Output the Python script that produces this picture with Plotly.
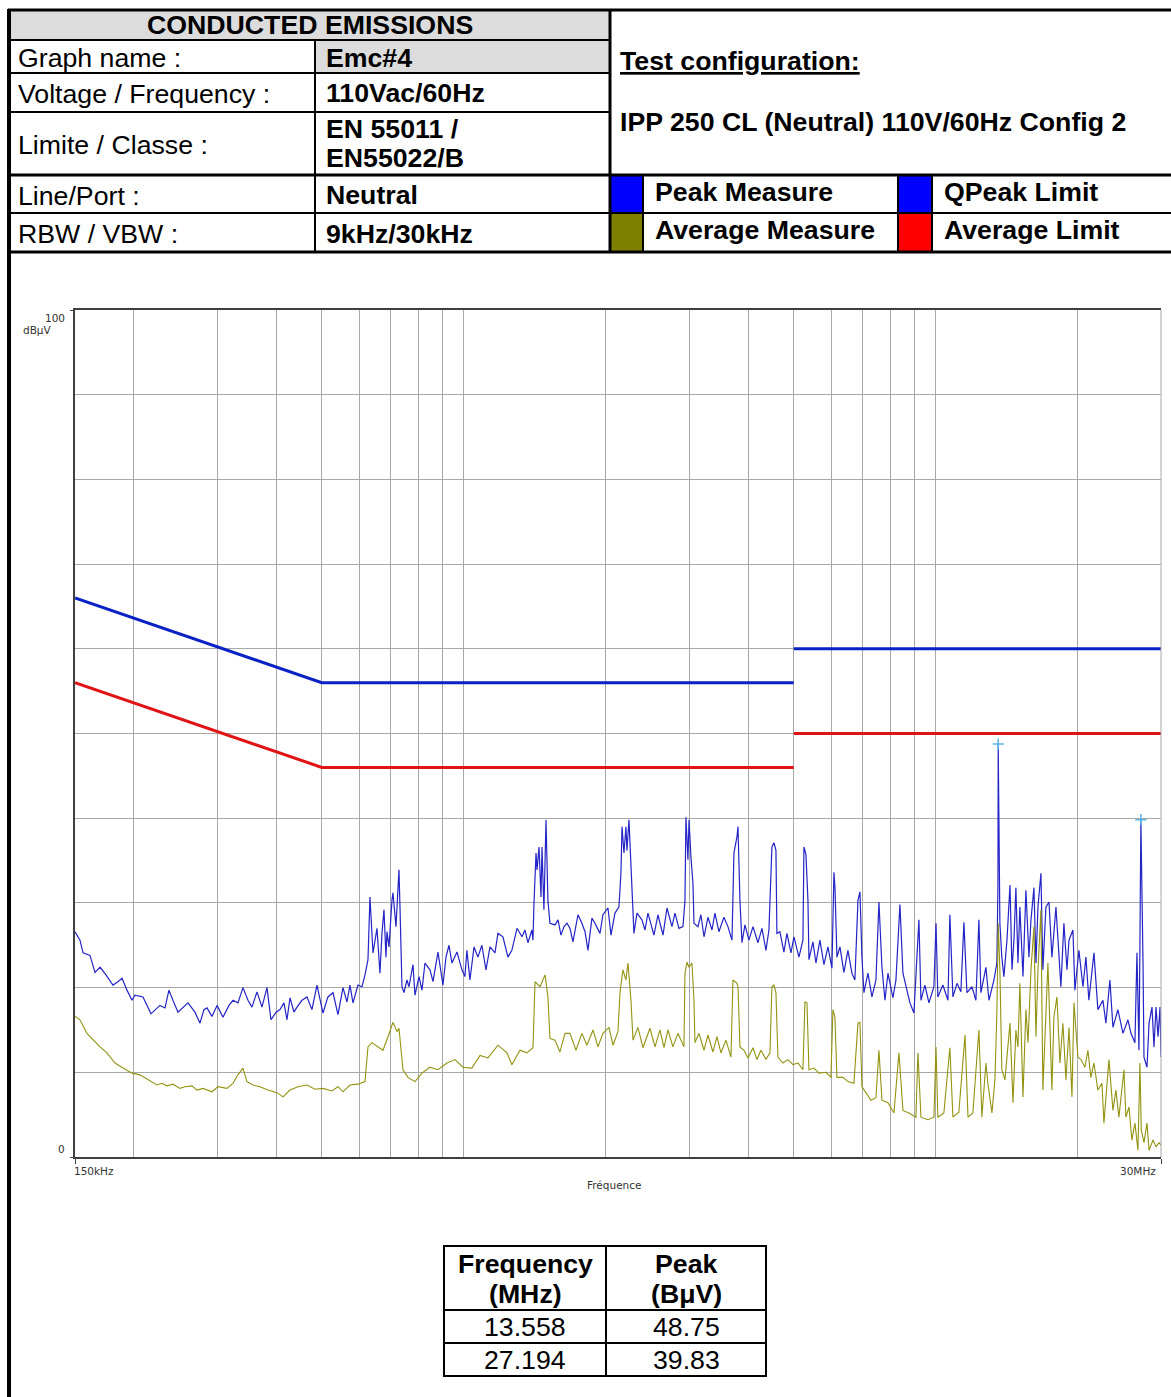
import math
import plotly.graph_objects as go

W, H = 1171, 1397
FONT = "Liberation Sans, Arial, sans-serif"
SMALL_FONT = "DejaVu Sans, Verdana, sans-serif"

# ---------------- data ----------------
peak_freq_mhz = [
    0.150, 0.1537, 0.1560, 0.1614, 0.1654, 0.1695, 0.1745, 0.1805, 0.1850, 0.1887, 0.1933, 0.1981,
    0.2010, 0.2090, 0.2173, 0.2270, 0.2327, 0.2372, 0.2419, 0.2479, 0.2603, 0.2693, 0.2760, 0.2814, 0.2856, 0.2926,
    0.300, 0.3088, 0.3179, 0.3242, 0.3322, 0.3404, 0.3488, 0.3557, 0.3645, 0.3735, 0.3827, 0.3902,
    0.400, 0.4078, 0.4158, 0.4219, 0.4282, 0.4366, 0.4430, 0.4540, 0.4652, 0.4766, 0.4884,
    0.5029, 0.5153, 0.5281, 0.5411, 0.5545, 0.5654, 0.5737, 0.5822, 0.5966,
    0.6083, 0.6173, 0.6264, 0.6325, 0.6419, 0.6545, 0.6641, 0.6707, 0.6772, 0.6839, 0.6872, 0.6940,
    0.7042, 0.7076, 0.7181, 0.7287, 0.7323, 0.7394, 0.7467, 0.7577, 0.7651, 0.7802, 0.7879,
    0.8034, 0.8152, 0.8272, 0.8477, 0.8602, 0.8814, 0.8943,
    0.9031, 0.9165, 0.9300, 0.9437, 0.9670, 0.9908,
    1.005, 1.015, 1.030, 1.051, 1.071, 1.092, 1.114, 1.136, 1.164, 1.181,
    1.210, 1.240, 1.264, 1.296, 1.328, 1.347, 1.367, 1.394, 1.401, 1.408,
    1.422, 1.429, 1.443, 1.457, 1.464, 1.478, 1.486, 1.493, 1.507, 1.522,
    1.560, 1.583, 1.606, 1.630, 1.654, 1.678, 1.703, 1.745, 1.779, 1.806,
    1.832, 1.868, 1.896, 1.943, 1.971,
    2.020, 2.050, 2.090, 2.131, 2.152, 2.163, 2.184, 2.205, 2.216, 2.238, 2.260, 2.271, 2.293, 2.327,
    2.384, 2.420, 2.455, 2.528, 2.578, 2.642, 2.694, 2.760, 2.801, 2.856, 2.912, 2.941, 2.955, 2.984,
    3.000, 3.028, 3.058, 3.073, 3.133, 3.179, 3.227, 3.290, 3.355, 3.404,
    3.471, 3.557, 3.627, 3.699, 3.735, 3.790, 3.809, 3.846, 3.884, 3.941,
    4.018, 4.098, 4.199, 4.282, 4.366, 4.430, 4.495, 4.540, 4.584, 4.606, 4.674, 4.766, 4.837, 4.932,
    5.005, 5.128, 5.229, 5.255, 5.307, 5.359, 5.385, 5.491, 5.572, 5.682, 5.794, 5.908,
    6.024, 6.083, 6.113, 6.173, 6.264, 6.387, 6.513, 6.641, 6.739, 6.839, 6.906, 6.974,
    7.042, 7.181, 7.323, 7.467, 7.577, 7.689, 7.802, 7.917,
    8.112, 8.232, 8.394, 8.518, 8.643, 8.814, 8.987,
    9.120, 9.209, 9.300, 9.482, 9.670, 9.908,
    10.01, 10.10, 10.35, 10.61, 10.71, 10.87, 11.09, 11.30, 11.47, 11.64,
    11.93, 12.16, 12.34, 12.46, 12.77, 12.96, 13.28, 13.47, 13.54, 13.558,
    13.67, 13.80, 13.94, 14.15, 14.36, 14.50, 14.64, 14.78, 14.93, 15.07,
    15.30, 15.52, 15.75, 15.91, 16.14, 16.30, 16.46, 16.70, 16.86, 17.11,
    17.37, 17.62, 17.97, 18.15, 18.41, 18.68, 18.96, 19.15, 19.52, 19.71,
    20.10, 20.50, 20.80, 21.10, 21.63, 22.05, 22.60, 22.93, 23.38, 23.73,
    24.31, 24.92, 25.53, 25.91, 26.42, 26.68, 26.94, 27.07, 27.194, 27.48,
    27.61, 28.02, 28.30, 28.71, 28.99, 29.28, 29.57, 29.86, 30.0,
]
peak_dbuv = [
    26.6, 25.6, 24.1, 23.8, 21.8, 22.4, 21.5, 20.3, 20.7, 21.1, 19.7, 18.5,
    19.1, 18.9, 16.9, 17.9, 17.6, 19.7, 18.5, 17.1, 18.2, 17.1, 15.8, 17.4, 17.6, 16.6,
    17.9, 16.5, 17.9, 18.5, 18.2, 20.0, 18.5, 17.7, 19.5, 17.7, 20.0, 16.2,
    17.1, 17.4, 18.2, 16.2, 18.8, 17.1, 17.7, 18.5, 18.9, 17.4, 20.3,
    17.0, 18.9, 19.4, 16.8, 20.0, 18.3, 20.3, 18.2, 20.3,
    20.1, 21.5, 23.3, 30.7, 24.1, 27.0, 21.7, 26.4, 29.2, 23.6, 26.6, 24.8,
    30.3, 31.2, 27.2, 33.9, 29.5, 20.1, 19.4, 20.9, 20.1, 22.7, 19.1,
    21.3, 19.7, 22.9, 22.1, 20.7, 24.2, 21.7,
    20.3, 23.6, 25.0, 22.9, 24.2, 22.1,
    21.3, 24.4, 20.9, 24.8, 23.6, 25.0, 22.1, 24.8, 24.1, 26.4,
    26.0, 23.6, 24.4, 27.0, 26.0, 26.8, 25.3, 26.8, 25.6, 30.0,
    35.9, 33.9, 36.6, 30.7, 36.6, 29.2, 37.4, 39.8, 30.3, 27.6,
    27.4, 28.0, 26.2, 27.2, 27.6, 27.0, 25.4, 28.6, 27.6, 26.6,
    24.4, 28.2, 27.6, 26.4, 28.6,
    29.4, 26.2, 28.8, 29.5, 33.5, 39.0, 35.9, 39.0, 36.2, 39.8, 33.9, 31.9, 26.4, 28.8,
    28.0, 26.8, 28.8, 26.2, 28.6, 26.2, 29.4, 27.2, 28.8, 27.0, 27.2, 30.3, 40.1, 35.1,
    39.8, 35.4, 32.3, 27.6, 27.2, 28.6, 26.0, 28.3, 26.8, 28.8,
    26.6, 28.3, 27.2, 25.6, 35.9, 37.8, 39.0, 30.3, 25.3, 27.4,
    25.6, 27.2, 25.3, 27.0, 24.4, 26.8, 36.6, 37.1, 36.2, 26.4, 26.6, 24.2, 26.4, 24.1,
    26.0, 23.6, 25.6, 36.6, 35.7, 30.3, 23.3, 25.4, 22.9, 25.6, 22.7, 24.8,
    22.3, 33.6, 31.9, 23.6, 24.8, 21.8, 24.4, 21.7, 20.9, 30.3, 31.3, 23.6,
    19.4, 21.7, 18.9, 20.9, 30.1, 22.4, 18.5, 21.7,
    18.8, 20.9, 29.8, 21.7, 20.1, 18.2, 17.0,
    23.3, 28.0, 18.5, 20.3, 18.2, 20.1,
    27.6, 18.9, 20.3, 18.5, 28.6, 18.9, 20.5, 19.5, 27.7, 19.4,
    20.1, 18.5, 28.0, 19.4, 22.4, 18.5, 20.9, 22.9, 31.9, 48.75,
    27.6, 23.6, 21.3, 25.6, 32.1, 22.1, 25.6, 31.8, 22.9, 29.5,
    21.3, 31.5, 23.6, 28.0, 31.8, 22.9, 29.5, 33.5, 22.1, 29.5,
    30.1, 23.6, 29.5, 25.3, 20.1, 27.6, 22.1, 25.6, 26.8, 19.7,
    24.4, 20.1, 23.6, 18.5, 24.1, 17.4, 18.5, 15.8, 20.9, 15.3,
    17.4, 14.6, 16.2, 14.6, 13.5, 24.1, 12.6, 24.8, 39.83, 22.9,
    11.8, 10.6, 15.8, 17.7, 13.0, 17.7, 14.2, 17.7, 11.8,
]

avg_freq_mhz = [
    0.150, 0.1537, 0.1590, 0.1638, 0.1695, 0.1753, 0.1823, 0.1896, 0.1981,
    0.2059, 0.2141, 0.2237, 0.2293, 0.2349, 0.2419, 0.2503, 0.2565, 0.2654, 0.2720, 0.2800, 0.2926,
    0.3013, 0.3148, 0.3242, 0.3322, 0.3404, 0.3471, 0.3574, 0.3698, 0.3845,
    0.4018, 0.4138, 0.4282, 0.4452, 0.4652, 0.4837,
    0.5029, 0.5255, 0.5411, 0.5545, 0.5737, 0.5966,
    0.6173, 0.6264, 0.6387, 0.6577, 0.6739, 0.6906,
    0.7076, 0.7216, 0.7287, 0.7431, 0.7614, 0.7879,
    0.8152, 0.8477, 0.8814,
    0.9209, 0.9576, 0.9957,
    1.040, 1.082, 1.125, 1.181, 1.234, 1.264, 1.315, 1.360, 1.401, 1.415,
    1.450, 1.486, 1.507, 1.522, 1.560, 1.598, 1.638, 1.678, 1.728, 1.779,
    1.823, 1.878, 1.924, 1.971,
    2.030, 2.070, 2.121, 2.142, 2.173, 2.205, 2.227, 2.260, 2.282, 2.338,
    2.396, 2.479, 2.541, 2.603, 2.655, 2.707, 2.773, 2.842, 2.926, 2.941, 2.970,
    3.000, 3.043, 3.073, 3.088, 3.149, 3.227, 3.290, 3.371, 3.438, 3.506,
    3.592, 3.681, 3.717, 3.790, 3.809, 3.846, 3.922,
    4.000, 4.098, 4.178, 4.261, 4.366, 4.452, 4.495, 4.540, 4.584, 4.629, 4.743, 4.860, 4.981,
    5.104, 5.229, 5.281, 5.333, 5.385, 5.518, 5.654, 5.851, 5.995,
    6.054, 6.113, 6.173, 6.356, 6.513, 6.707, 6.839, 6.906, 6.974,
    7.111, 7.287, 7.467, 7.577, 7.689, 7.917,
    8.152, 8.354, 8.518, 8.771,
    9.075, 9.165, 9.300, 9.623, 9.908,
    10.01, 10.10, 10.40, 10.71, 10.87, 11.19, 11.53, 11.70, 11.98, 12.34,
    12.52, 12.77, 12.89, 13.15, 13.34, 13.47, 13.558, 13.67, 13.80, 14.01,
    14.22, 14.36, 14.57, 14.78, 14.93, 15.07, 15.30, 15.52, 15.68, 15.91,
    16.14, 16.30, 16.46, 16.70, 16.86, 17.11, 17.28, 17.62, 17.79, 18.06,
    18.32, 18.59, 18.87, 19.15, 19.43, 19.62,
    20.00, 20.30, 20.70, 21.00, 21.31, 21.63, 22.05, 22.49, 22.71, 23.27,
    23.73, 24.08, 24.43, 25.04, 25.28, 25.66, 26.03, 26.42, 26.81, 27.07,
    27.25, 27.61, 28.02, 28.30, 28.85, 29.28, 29.71, 30.0,
]
avg_dbuv = [
    16.6, 16.2, 14.6, 13.8, 13.0, 12.3, 11.1, 10.5, 9.9,
    9.7, 9.1, 8.5, 8.7, 8.4, 8.6, 8.1, 8.3, 8.4, 7.9, 8.1, 7.7,
    8.3, 8.1, 8.7, 9.7, 10.5, 8.9, 8.5, 8.3, 7.9,
    7.6, 7.1, 7.9, 8.3, 8.5, 8.0,
    8.1, 7.8, 8.3, 7.7, 8.5, 8.6,
    8.9, 13.0, 13.5, 13.0, 12.6, 14.2,
    15.9, 14.8, 15.2, 10.3, 9.4, 8.9,
    9.9, 10.6, 10.3,
    11.1, 11.5, 10.6,
    10.5, 12.0, 11.7, 13.2, 12.3, 10.9, 12.6, 12.3, 12.9, 20.7,
    20.1, 21.5, 18.9, 14.0, 13.8, 12.4, 14.6, 14.6, 12.6, 14.6,
    13.2, 15.0, 13.0, 14.6,
    15.3, 13.2, 14.8, 19.4, 22.1, 20.9, 22.9, 18.5, 13.8, 15.3,
    12.9, 15.2, 13.0, 15.0, 12.9, 15.0, 13.0, 14.6, 13.0, 21.7, 23.0,
    22.4, 22.9, 18.5, 13.5, 14.6, 12.6, 14.4, 12.4, 14.2, 12.3,
    13.8, 11.8, 20.9, 20.5, 20.1, 13.0, 12.6,
    11.7, 12.9, 11.5, 12.6, 11.5, 12.3, 20.1, 20.3, 19.4, 11.8, 11.1, 11.5, 10.9,
    11.1, 10.3, 18.3, 18.2, 10.3, 10.5, 9.9, 10.0, 9.4,
    17.4, 16.5, 9.4, 9.4, 8.9, 8.7, 15.8, 15.9, 8.3,
    7.6, 6.7, 7.0, 12.6, 6.7, 6.4,
    5.2, 12.3, 5.5, 5.2,
    4.7, 12.3, 4.7, 4.4, 4.7,
    13.0, 4.7, 5.2, 12.9, 4.7, 5.3, 14.4, 4.7, 5.2, 15.0,
    4.7, 11.1, 8.7, 5.2, 9.1, 17.0, 27.6, 22.1, 10.3, 9.1,
    13.0, 15.8, 6.4, 15.0, 13.0, 20.5, 7.1, 17.4, 13.5, 22.1,
    27.2, 14.2, 22.1, 29.2, 7.9, 17.7, 22.9, 7.9, 16.5, 18.9,
    11.1, 15.8, 9.1, 15.3, 7.1, 18.2,
    11.8, 11.5, 10.6, 12.6, 9.4, 11.1, 7.9, 8.7, 4.0, 11.5,
    5.5, 7.9, 4.7, 10.3, 4.7, 5.9, 2.0, 4.0, 0.8, 11.1,
    3.2, 1.7, 4.0, 0.8, 2.0, 1.2, 1.7, 1.4,
]

qp_limit_freq = [0.15, 0.5, 5.0, None, 5.0, 30.0]
qp_limit_dbuv = [66, 56, 56, None, 60, 60]
avg_limit_freq = [0.15, 0.5, 5.0, None, 5.0, 30.0]
avg_limit_dbuv = [56, 46, 46, None, 50, 50]

marker_freq_mhz = [13.558, 27.194]
marker_peak_dbuv = [48.75, 39.83]
table_freq_text = ["13.558", "27.194"]
table_peak_text = ["48.75", "39.83"]

x_grid_mhz = [0.2, 0.3, 0.4, 0.5, 0.6, 0.7, 0.8, 0.9, 1, 2, 3, 4, 5, 6, 7, 8, 9, 10, 20]
y_grid_dbuv = [10, 20, 30, 40, 50, 60, 70, 80, 90]
y_tick_vals = [0, 100]
y_tick_text = ["0", "100"]

info_labels = ["Graph name :", "Voltage / Frequency :", "Limite / Classe :", "Line/Port :", "RBW / VBW :"]
info_values = [["Emc#4"], ["110Vac/60Hz"], ["EN 55011 /", "EN55022/B"], ["Neutral"], ["9kHz/30kHz"]]
legend_names = ["Peak Measure", "QPeak Limit", "Average Measure", "Average Limit"]
legend_colors = ["#0000ff", "#0000ff", "#808000", "#ff0000"]

assert len(peak_freq_mhz) == len(peak_dbuv)
assert len(avg_freq_mhz) == len(avg_dbuv)

# ---------------- figure ----------------
fig = go.Figure()
fig.add_trace(go.Scatter(x=peak_freq_mhz, y=peak_dbuv, mode="lines",
                         line=dict(color="#2424c8", width=1.2), hoverinfo="skip"))
fig.add_trace(go.Scatter(x=avg_freq_mhz, y=avg_dbuv, mode="lines",
                         line=dict(color="#939310", width=1.1), hoverinfo="skip"))
fig.add_trace(go.Scatter(x=qp_limit_freq, y=qp_limit_dbuv, mode="lines",
                         line=dict(color="#0a22c4", width=3), hoverinfo="skip"))
fig.add_trace(go.Scatter(x=avg_limit_freq, y=avg_limit_dbuv, mode="lines",
                         line=dict(color="#e01414", width=3), hoverinfo="skip"))
fig.add_trace(go.Scatter(x=marker_freq_mhz, y=marker_peak_dbuv, mode="markers",
                         marker=dict(symbol="cross-thin-open", size=8, color="#5ab4e6",
                                     line=dict(color="#5ab4e6", width=1.5)),
                         hoverinfo="skip"))


def X(p):
    return p / W


def Y(p):
    return 1 - p / H


shapes = []


def hline(y, x0, x1, w=2, color="black"):
    shapes.append(dict(type="line", xref="paper", yref="paper", x0=X(x0), x1=X(x1),
                       y0=Y(y), y1=Y(y), line=dict(color=color, width=w)))


def vline(x, y0, y1, w=2, color="black"):
    shapes.append(dict(type="line", xref="paper", yref="paper", x0=X(x), x1=X(x),
                       y0=Y(y0), y1=Y(y1), line=dict(color=color, width=w)))


def rect(x0, y0, x1, y1, fill, lw=0, lc="black"):
    shapes.append(dict(type="rect", xref="paper", yref="paper", x0=X(x0), x1=X(x1),
                       y0=Y(y1), y1=Y(y0), fillcolor=fill,
                       line=dict(width=lw, color=lc), layer="below"))


annotations = []
HS = 26.7  # table font size


def txt(x, y, s, size=HS, bold=False, anchor="left", color="black", family=FONT,
        yref="paper"):
    annotations.append(dict(x=X(x), y=Y(y) if yref == "paper" else y, xref="paper", yref=yref,
                            text=f"<b>{s}</b>" if bold else s, showarrow=False,
                            xanchor=anchor, yanchor="middle",
                            font=dict(family=family, size=size, color=color)))


# header backgrounds
rect(10, 10, 610, 40, "#dcdcdc")
rect(315, 40, 610, 73, "#dcdcdc")
box_x = [(610, 643), (898, 932)]
row_y = [(175, 213), (213, 252)]
for i, (name, col) in enumerate(zip(legend_names, legend_colors)):
    r, c = divmod(i, 2)
    rect(box_x[c][0], row_y[r][0], box_x[c][1], row_y[r][1], col)
    txt(box_x[c][1] + 10, (row_y[r][0] + row_y[r][1]) / 2 - 2, name, bold=True)

# header lines
hline(10, 8, W, 3)
for yy in (40, 73, 112):
    hline(yy, 8, 610, 2)
hline(175, 8, W, 3)
hline(213, 8, W, 2)
hline(252, 8, W, 3)
vline(9, 9, H, 4)
vline(315, 40, 252, 2)
vline(610, 10, 252, 3)
for xx in (643, 898, 932):
    vline(xx, 175, 252, 2)

# header texts
txt(310, 25, "CONDUCTED EMISSIONS", bold=True, anchor="center")
rows = [(40, 73), (73, 112), (112, 175), (175, 213), (213, 252)]
for (y0, y1), lab, vals in zip(rows, info_labels, info_values):
    cy = (y0 + y1) / 2
    txt(16, cy + 1.5, lab)
    if len(vals) == 1:
        txt(324, cy + 1, vals[0], bold=True)
    else:
        txt(324, cy - 15, vals[0], bold=True)
        txt(324, cy + 14, vals[1], bold=True)
txt(618, 61, "<u>Test configuration:</u>", bold=True)
txt(618, 122, "IPP 250 CL (Neutral) 110V/60Hz Config 2", bold=True)

# right edge of the plot frame (30 MHz)
vline(1161, 310, 1157, 1, "#a8a8a8")

# axis texts (y tick labels sit slightly inside the 0..100 range, as in the original)
for v, t in zip(y_tick_vals, y_tick_text):
    annotations.append(dict(x=X(67), y=v, xref="paper", yref="y", text=t, showarrow=False,
                            xanchor="right", yanchor="top" if v == 100 else "bottom",
                            font=dict(family=SMALL_FONT, size=10.5, color="#333333")))
txt(37, 330, "dBµV", size=10.5, anchor="center", color="#333333", family=SMALL_FONT)
txt(72, 1171, "150kHz", size=10.5, anchor="left", color="#333333", family=SMALL_FONT)
txt(1158, 1171, "30MHz", size=10.5, anchor="right", color="#333333", family=SMALL_FONT)
txt(615, 1185, "Fréquence", size=10.5, anchor="center", color="#333333", family=SMALL_FONT)

# bottom table
tx0, tx1, tdiv = 444, 766, 606
ty = [1246, 1310, 1343, 1376]
rect(tx0, ty[0], tx1, ty[-1], "rgba(0,0,0,0)", lw=2)
vline(tdiv, ty[0], ty[-1], 2)
hline(ty[1], tx0, tx1, 2)
hline(ty[2], tx0, tx1, 2)
c1 = (tx0 + tdiv) / 2
c2 = (tdiv + tx1) / 2
txt(c1, 1264, "Frequency", bold=True, anchor="center")
txt(c1, 1294, "(MHz)", bold=True, anchor="center")
txt(c2, 1264, "Peak", bold=True, anchor="center")
txt(c2, 1294, "(BμV)", bold=True, anchor="center")
for i, (f, p) in enumerate(zip(table_freq_text, table_peak_text)):
    cy = (ty[i + 1] + ty[i + 2]) / 2
    txt(c1, cy, f, anchor="center")
    txt(c2, cy, p, anchor="center")

fig.update_layout(
    width=W, height=H,
    margin=dict(l=0, r=0, t=0, b=0, pad=0, autoexpand=False),
    paper_bgcolor="white", plot_bgcolor="white",
    showlegend=False,
    shapes=shapes, annotations=annotations,
    xaxis=dict(type="log", range=[math.log10(0.15), math.log10(30)],
               domain=[75 / W, 1161 / W], showgrid=False, automargin=False,
               tickmode="array", tickvals=[0.15, 30], ticks="outside", ticklen=5,
               tickcolor="#404040", showticklabels=False,
               showline=True, linecolor="#404040", linewidth=2, mirror=True,
               zeroline=False, fixedrange=True,
               minor=dict(tickmode="array", tickvals=x_grid_mhz, showgrid=True,
                          gridcolor="#a8a8a8", gridwidth=1, ticks="")),
    yaxis=dict(range=[0, 100], domain=[1 - 1157 / H, 1 - 310 / H], automargin=False,
               tickmode="array", tickvals=y_tick_vals, showticklabels=False,
               ticks="outside", ticklen=3, tickcolor="#404040",
               showgrid=False,
               showline=True, linecolor="#404040", linewidth=2,
               zeroline=False, fixedrange=True,
               minor=dict(tickmode="array", tickvals=y_grid_dbuv, showgrid=True,
                          gridcolor="#a8a8a8", gridwidth=1, ticks="")),
)

fig.write_html("out.html")
